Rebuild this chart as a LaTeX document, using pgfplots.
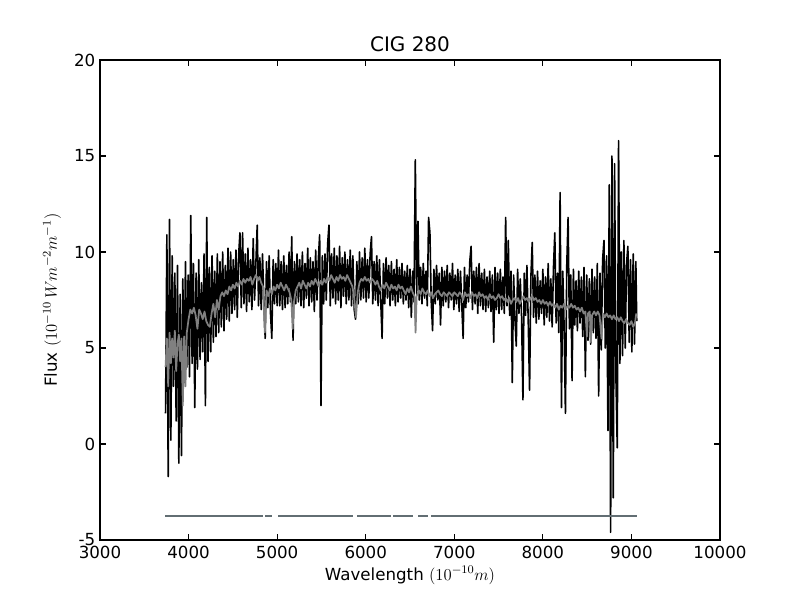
\RequirePackage{fix-cm}
\documentclass[border=0pt]{standalone}
\usepackage{pgfplots}
\pgfplotsset{compat=1.18}
\usepackage{pgfplotstable}
\usepackage{fontspec}
\setmainfont{DejaVu Sans}
\definecolor{slateline}{RGB}{98,110,115}
\definecolor{modelgray}{RGB}{128,128,128}

\pgfplotstableread{
x y
3740 1.6
3755 10.9
3770 -1.7
3785 11.7
3800 0.2
3815 9.8
3830 3.0
3845 8.9
3860 1.2
3875 9.3
3890 -1.0
3905 7.8
3920 -0.6
3935 8.6
3950 3.2
3965 9.5
3980 4.0
3995 8.8
4010 3.5
4025 11.9
4040 4.2
4055 9.4
4070 1.9
4085 8.9
4100 3.9
4115 9.6
4130 4.4
4145 8.4
4160 4.8
4175 9.9
4190 2.0
4205 11.8
4220 4.3
4235 9.2
4250 4.8
4265 9.8
4280 5.3
4295 9.0
4310 5.6
4325 9.9
4340 5.8
4355 9.5
4370 6.1
4385 10.0
4400 5.9
4415 9.3
4430 6.5
4445 10.2
4460 6.4
4475 10.0
4490 6.8
4505 9.6
4520 7.0
4535 10.1
4550 6.6
4565 9.8
4580 11.0
4595 7.1
4610 11.0
4625 7.3
4640 9.9
4655 6.9
4670 10.2
4685 7.4
4700 9.6
4715 7.0
4730 10.7
4745 7.5
4760 9.4
4775 11.4
4790 7.2
4805 9.7
4820 7.0
4835 9.9
4850 7.4
4865 5.5
4880 9.5
4895 7.1
4910 9.8
4925 6.8
4940 5.5
4955 9.6
4970 7.3
4985 9.4
5000 7.2
5015 10.1
5030 7.2
5045 9.5
5060 7.0
5075 9.8
5090 7.1
5105 9.3
5120 7.3
5135 10.0
5150 7.4
5165 10.8
5180 5.4
5195 9.5
5210 7.3
5225 9.9
5240 7.4
5255 9.6
5270 7.2
5285 10.0
5300 7.1
5315 9.4
5330 7.6
5345 10.2
5360 7.2
5375 9.7
5390 7.4
5405 9.5
5420 6.9
5435 10.1
5450 7.5
5465 9.6
5480 10.9
5495 2.0
5510 9.8
5525 7.3
5540 9.9
5555 7.5
5570 10.4
5585 11.4
5600 7.2
5615 9.9
5630 7.6
5645 10.2
5660 7.3
5675 9.8
5690 7.5
5705 10.3
5720 7.1
5735 9.7
5750 7.7
5765 10.0
5780 7.3
5795 9.6
5810 7.5
5825 10.1
5840 7.2
5855 9.8
5870 7.0
5885 6.5
5900 9.5
5915 7.3
5930 10.0
5945 7.5
5960 9.7
5975 7.6
5990 10.2
6005 7.4
6020 9.6
6035 7.6
6050 9.9
6065 10.8
6080 7.3
6095 9.5
6110 7.5
6125 9.8
6140 7.2
6155 9.6
6170 7.4
6185 5.5
6200 9.4
6215 7.3
6230 9.7
6245 7.6
6260 9.3
6275 7.2
6290 9.5
6305 7.5
6320 9.1
6335 7.2
6350 9.6
6365 7.4
6380 9.2
6395 7.6
6410 9.4
6425 7.3
6440 9.0
6455 7.5
6470 9.3
6485 7.1
6500 9.1
6515 6.6
6530 9.0
6545 7.4
6560 14.8
6575 7.8
6590 11.6
6605 7.5
6620 9.2
6635 7.3
6650 9.4
6665 7.6
6680 9.0
6695 7.2
6710 11.8
6725 11.0
6740 7.4
6755 5.9
6770 9.1
6785 7.3
6800 9.3
6815 7.5
6830 8.9
6845 6.2
6860 9.2
6875 7.2
6890 9.0
6905 7.4
6920 9.3
6935 7.1
6950 8.9
6965 7.5
6980 9.4
6995 7.0
7010 8.8
7025 7.3
7040 9.1
7055 6.9
7070 9.0
7085 7.2
7100 5.5
7115 9.2
7130 7.1
7145 8.8
7160 7.4
7175 9.5
7190 10.3
7205 7.0
7220 9.0
7235 7.3
7250 9.2
7265 6.8
7280 9.4
7295 7.2
7310 8.9
7325 7.0
7340 9.1
7355 6.9
7370 8.7
7385 7.1
7400 9.0
7415 6.9
7430 8.8
7445 5.3
7460 9.2
7475 7.0
7490 8.9
7505 6.8
7520 9.1
7535 7.0
7550 8.7
7565 6.8
7580 11.8
7595 7.2
7610 10.6
7625 6.7
7640 9.0
7655 3.2
7670 8.8
7685 6.5
7700 5.1
7715 9.1
7730 6.8
7745 8.6
7760 6.6
7775 2.3
7790 8.9
7805 6.7
7820 9.3
7835 6.4
7850 2.8
7865 8.7
7880 10.5
7895 6.6
7910 8.8
7925 6.3
7940 9.0
7955 6.5
7970 8.5
7985 6.8
8000 9.1
8015 6.2
8030 8.7
8045 6.6
8060 9.4
8075 6.4
8090 8.6
8105 6.1
8120 9.2
8135 11.0
8150 6.3
8165 8.9
8180 5.8
8195 13.1
8210 1.9
8225 9.0
8240 6.1
8255 1.6
8270 9.3
8285 11.8
8300 6.0
8315 8.8
8330 3.3
8345 9.1
8360 6.2
8375 8.5
8390 5.9
8405 9.0
8420 6.3
8435 8.7
8450 5.6
8465 9.2
8480 3.5
8495 8.8
8510 5.4
8525 8.6
8540 5.2
8555 9.1
8570 5.8
8585 8.7
8600 5.5
8615 9.4
8630 2.5
8645 8.9
8660 4.9
8675 9.6
8690 10.6
8705 5.0
8720 9.8
8735 0.7
8750 13.5
8765 -4.6
8780 15.0
8795 -2.8
8810 14.6
8825 3.5
8840 -0.2
8855 15.8
8870 4.2
8885 10.0
8900 4.6
8915 10.6
8930 5.0
8945 9.4
8960 10.3
8975 5.3
8990 9.6
9005 4.8
9020 9.9
9035 5.2
9050 9.5
9060 6.4
}\observed

\pgfplotstableread{
x y
3740 4.0
3755 5.5
3770 3.0
3785 5.8
3800 4.2
3815 5.5
3830 4.5
3845 5.9
3860 3.8
3875 5.2
3890 5.7
3905 4.3
3920 5.5
3935 2.0
3950 5.6
3965 3.0
3980 5.8
4000 6.5
4020 7.0
4040 6.8
4060 7.1
4080 6.7
4100 6.0
4120 7.0
4140 6.8
4160 6.5
4180 6.9
4200 6.4
4220 6.2
4240 6.1
4260 6.8
4280 7.3
4300 6.6
4320 7.5
4340 7.0
4360 7.7
4380 7.9
4400 7.7
4420 8.0
4440 7.8
4460 8.2
4480 8.0
4500 8.3
4520 8.1
4540 8.4
4560 8.2
4580 8.5
4600 8.3
4620 8.6
4640 8.4
4660 8.6
4680 8.5
4700 8.7
4720 8.3
4740 8.6
4760 8.8
4780 8.5
4800 8.7
4820 8.4
4840 8.2
4861 5.8
4880 8.0
4900 7.7
4920 8.1
4940 7.8
4960 8.2
4980 8.0
5000 8.3
5020 8.1
5040 8.4
5060 8.2
5080 8.0
5100 8.3
5120 8.1
5140 7.9
5160 7.5
5175 6.0
5190 7.4
5210 8.0
5230 8.2
5250 8.4
5270 8.1
5290 8.5
5310 8.3
5330 8.1
5350 8.4
5370 8.2
5390 8.5
5410 8.3
5430 8.6
5450 8.4
5470 8.2
5490 8.5
5510 8.3
5530 8.6
5550 8.4
5570 8.7
5590 8.5
5610 8.8
5630 8.6
5650 8.4
5670 8.7
5690 8.5
5710 8.8
5730 8.6
5750 8.7
5770 8.5
5790 8.8
5810 8.6
5830 8.4
5850 8.2
5870 7.6
5890 6.6
5910 7.9
5930 8.4
5950 8.6
5970 8.5
5990 8.7
6010 8.5
6030 8.6
6050 8.4
6070 8.6
6090 8.5
6110 8.3
6130 8.5
6150 8.2
6170 8.0
6190 8.3
6210 8.1
6230 8.4
6250 8.2
6270 8.0
6290 8.3
6310 8.1
6330 8.2
6350 8.0
6370 8.3
6390 8.1
6410 8.2
6430 8.0
6450 7.8
6470 8.1
6490 7.9
6510 8.2
6530 7.9
6550 7.7
6563 5.8
6575 7.7
6600 8.0
6620 7.8
6640 8.1
6660 7.9
6680 7.8
6700 8.0
6720 7.7
6740 7.9
6760 7.6
6780 7.8
6800 7.9
6820 8.0
6840 7.8
6860 7.7
6880 7.9
6900 7.8
6920 7.7
6940 7.9
6960 7.8
6980 7.7
7000 7.9
7020 7.8
7040 7.7
7060 7.9
7080 7.8
7100 7.5
7120 7.9
7140 7.7
7160 7.8
7180 7.6
7200 7.9
7220 7.7
7240 7.8
7260 7.6
7280 7.9
7300 7.7
7320 7.8
7340 7.6
7360 7.7
7380 7.5
7400 7.8
7420 7.6
7440 7.7
7460 7.5
7480 7.6
7500 7.8
7520 7.6
7540 7.7
7560 7.5
7580 7.6
7600 7.4
7620 7.6
7640 7.3
7660 7.5
7680 7.6
7700 7.4
7720 7.6
7740 7.3
7760 7.5
7780 7.7
7800 7.5
7820 7.6
7840 7.4
7860 7.6
7880 7.7
7900 7.5
7920 7.6
7940 7.4
7960 7.5
7980 7.3
8000 7.5
8020 7.3
8040 7.4
8060 7.2
8080 7.4
8100 7.2
8120 7.3
8140 7.1
8160 7.3
8180 7.0
8200 7.2
8220 7.1
8240 7.3
8260 7.0
8280 7.2
8300 7.1
8320 7.3
8340 7.1
8360 7.2
8380 7.0
8400 7.1
8420 6.9
8440 7.1
8460 6.8
8480 6.9
8498 5.6
8510 6.8
8530 6.9
8542 5.3
8555 6.7
8580 6.9
8600 6.7
8620 6.9
8640 6.7
8662 5.5
8680 6.8
8700 6.6
8720 6.8
8740 6.6
8760 6.7
8780 6.5
8800 6.7
8820 6.5
8840 6.6
8860 6.4
8880 6.6
8900 6.4
8920 6.3
8940 6.5
8960 6.3
8980 6.2
9000 6.4
9020 6.1
9040 6.3
9055 6.8
}\model

\pgfplotstableread{
x y
3734 -3.73
4844 -3.73
nan nan
4863 -3.73
4939 -3.73
nan nan
5013 -3.73
5860 -3.73
nan nan
5905 -3.73
6282 -3.73
nan nan
6311 -3.73
6530 -3.73
nan nan
6594 -3.73
6700 -3.73
nan nan
6737 -3.73
9060 -3.73
}\mask

\begin{document}
\begin{tikzpicture}
\begin{axis}[
  scale only axis,
  width=465pt, height=360pt,
  xmin=3000, xmax=10000, ymin=-5, ymax=20,
  xtick={3000,4000,...,10000},
  ytick={-5,0,5,10,15,20},
  tick align=inside,
  major tick length=4.2pt,
  minor tick num=0,
  axis line style={line width=1pt},
  every tick/.style={black, line width=0.8pt},
  tick label style={font=\fontsize{12.5}{15}\selectfont},
  xticklabel style={yshift=-1pt},
  /pgf/number format/assume math mode=true,
  /pgf/number format/1000 sep={},
  scaled ticks=false,
  title={CIG 280},
  title style={font=\fontsize{15}{18}\selectfont, at={(0.5,1)}, anchor=south, yshift=-3pt},
  xlabel={Wavelength $(10^{-10}m)$},
  ylabel={Flux $(10^{-10}\,Wm^{-2}m^{-1})$},
  label style={font=\fontsize{12.5}{15}\selectfont},
  xlabel style={yshift=1pt},
  ylabel style={yshift=3pt},
  unbounded coords=jump,
  clip=true,
]
\addplot[black, line width=1.2pt, line join=round] table[x=x,y=y] {\observed};
\addplot[modelgray, line width=1.3pt, line join=round] table[x=x,y=y] {\model};
\addplot[slateline, line width=1.6pt] table[x=x,y=y] {\mask};
\end{axis}
\path[use as bounding box] (-75pt,-45pt) rectangle (525pt,405pt);
\end{tikzpicture}
\end{document}
